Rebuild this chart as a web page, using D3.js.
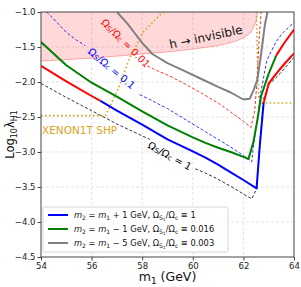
<!DOCTYPE html>
<html>
<head>
<meta charset="UTF-8">
<style>
  body { margin: 0; background: #fff; }
  text { font-family: "DejaVu Sans", sans-serif; }
</style>
</head>
<body>
<div id="chart"></div>
<script src="https://cdn.jsdelivr.net/npm/d3@7"></script>
<script>
const WIDTH = 301, HEIGHT = 287;
const LEFT = 41, RIGHT = 294, TOP = 12, BOTTOM = 257;

const X_TICKS = [54, 56, 58, 60, 62, 64];
const Y_TICKS = [-1.0, -1.5, -2.0, -2.5, -3.0, -3.5, -4.0, -4.5];

// h -> invisible region, lower edge
const INV_X = [54, 55, 56, 57, 58, 59, 60, 61, 61.6, 62, 62.3, 62.5, 62.56];
const INV_Y = [-1.70, -1.68, -1.66, -1.63, -1.60, -1.57, -1.53, -1.48, -1.43, -1.37, -1.29, -1.14, -1.0];

// XENON1T SHP
const XE_X = [54, 56.55, 57.04, 57.5, 58.05, 58.85];
const XE_Y = [-2.48, -2.48, -2.11, -1.66, -1.28, -0.99];
const XE2_X = [62.51, 62.55, 62.6, 62.7, 64];
const XE2_Y = [-1.0, -1.6, -2.2, -2.3, -2.3];

// m2 = m1 + 1 (red / blue pieces)
const P1_RED_X = [54, 55, 56, 56.35];
const P1_RED_Y = [-1.77, -1.99, -2.2, -2.27];
const P1_BLUE_X = [56.35, 57, 58, 59, 60, 60.5, 61, 61.5, 62, 62.52, 62.65, 62.8];
const P1_BLUE_Y = [-2.27, -2.41, -2.61, -2.82, -2.99, -3.08, -3.18, -3.29, -3.4, -3.52, -2.9, -2.3];
const P1_RED2_X = [62.8, 63.0, 63.3, 63.6, 64];
const P1_RED2_Y = [-2.3, -2.02, -1.88, -1.75, -1.59];

// m2 = m1 - 1 (green / red)
const M1_GREEN_X = [54, 55, 56, 57, 58, 59, 60, 60.5, 61, 61.5, 62, 62.2, 62.4, 62.55, 62.7, 63.0, 63.3];
const M1_GREEN_Y = [-1.43, -1.76, -2.01, -2.21, -2.42, -2.62, -2.79, -2.87, -2.94, -3.0, -3.07, -3.1, -2.85, -2.55, -2.2, -1.88, -1.62];
const M1_RED_X = [63.3, 63.6, 64];
const M1_RED_Y = [-1.62, -1.45, -1.25];

// m2 = m1 - 5 (gray)
const M5_X = [57.0, 57.4, 57.7, 58.0, 58.4, 59.0, 59.6, 60.3, 61.0, 61.5, 62.0, 62.25, 62.4, 62.55, 62.7, 62.85, 62.95];
const M5_Y = [-1.0, -1.16, -1.3, -1.44, -1.6, -1.73, -1.83, -1.95, -2.07, -2.15, -2.25, -2.24, -2.12, -1.97, -1.6, -1.18, -1.0];

// ratio contours (dashed)
const R001_X = [58.2, 58.6, 59.0, 59.6, 60.3, 61.0, 61.5, 62.0, 62.3, 62.45, 62.53, 62.62, 62.7];
const R001_Y = [-1.77, -1.84, -1.9, -2.01, -2.15, -2.3, -2.43, -2.56, -2.65, -2.4, -2.02, -1.4, -1.0];
const R01A_X = [54.22, 54.5, 55.0, 55.4, 55.75];
const R01A_Y = [-1.0, -1.1, -1.29, -1.4, -1.48];
const R01B_X = [57.9, 58.3, 59, 60, 60.5, 61, 61.5, 62, 62.33, 62.39, 62.5, 62.59, 62.66, 62.92, 63.05, 63.3, 63.55, 64];
const R01B_Y = [-2.18, -2.25, -2.38, -2.6, -2.71, -2.82, -2.93, -3.05, -3.14, -2.93, -2.65, -2.45, -2.2, -1.7, -1.6, -1.42, -1.3, -1.15];
const R1A_X = [54, 55, 56, 57, 58, 58.3];
const R1A_Y = [-2.02, -2.22, -2.41, -2.6, -2.77, -2.82];
const R1B_X = [60.1, 60.5, 61, 61.5, 62, 62.33, 62.53, 62.66, 62.79, 63.0, 63.45, 64];
const R1B_Y = [-3.24, -3.3, -3.39, -3.49, -3.6, -3.67, -3.52, -2.83, -2.25, -2.04, -1.88, -1.65];

const LEGEND = [
  { color: "blue", dm: "+ 1", ratio: "1" },
  { color: "green", dm: "\u2212 1", ratio: "0.016" },
  { color: "gray", dm: "\u2212 5", ratio: "0.003" }
];

const x = d3.scaleLinear().domain([54, 64]).range([LEFT, RIGHT]);
const y = d3.scaleLinear().domain([-4.5, -1]).range([BOTTOM, TOP]);

const svg = d3.select("#chart").append("svg")
  .attr("width", WIDTH).attr("height", HEIGHT);

svg.append("clipPath").attr("id", "clip")
  .append("rect").attr("x", LEFT).attr("y", TOP)
  .attr("width", RIGHT - LEFT).attr("height", BOTTOM - TOP);

// grid
const grid = svg.append("g").attr("stroke", "#d9d9d9").attr("stroke-width", 0.7).attr("stroke-dasharray", "3,2");
grid.selectAll(".gx").data(X_TICKS.slice(1, -1)).enter().append("line")
  .attr("x1", d => x(d)).attr("x2", d => x(d)).attr("y1", TOP).attr("y2", BOTTOM);
grid.selectAll(".gy").data(Y_TICKS.slice(1, -1)).enter().append("line")
  .attr("y1", d => y(d)).attr("y2", d => y(d)).attr("x1", LEFT).attr("x2", RIGHT);

const plot = svg.append("g").attr("clip-path", "url(#clip)");

const inv = INV_X.map((v, i) => [v, INV_Y[i]]);
plot.append("path").datum(inv)
  .attr("d", d3.area().x(d => x(d[0])).y0(y(-1)).y1(d => y(d[1])))
  .attr("fill", "rgba(255,0,0,0.15)");
plot.append("path").datum(inv)
  .attr("d", d3.line().x(d => x(d[0])).y(d => y(d[1])))
  .attr("fill", "none").attr("stroke", "rgba(240,90,90,0.55)").attr("stroke-width", 0.9);

function curve(xs, ys, color, width, dash) {
  const pts = xs.map((v, i) => [v, ys[i]]);
  plot.append("path").datum(pts)
    .attr("d", d3.line().x(d => x(d[0])).y(d => y(d[1])))
    .attr("fill", "none").attr("stroke", color).attr("stroke-width", width)
    .attr("stroke-dasharray", dash || null).attr("stroke-linejoin", "round");
}

curve(XE_X, XE_Y, "goldenrod", 1.6, "1.6,2.4");
curve(XE2_X, XE2_Y, "goldenrod", 1.6, "1.6,2.4");

curve(R1A_X, R1A_Y, "black", 0.8, "3,2");
curve(R1B_X, R1B_Y, "black", 0.8, "3,2");
curve(R01A_X, R01A_Y, "blue", 0.8, "3,2");
curve(R01B_X, R01B_Y, "blue", 0.8, "3,2");
curve(R001_X, R001_Y, "red", 0.8, "3,2");

curve(M5_X, M5_Y, "gray", 2);
curve(M1_GREEN_X, M1_GREEN_Y, "green", 2);
curve(M1_RED_X, M1_RED_Y, "red", 2);
curve(P1_RED_X, P1_RED_Y, "red", 2);
curve(P1_BLUE_X, P1_BLUE_Y, "blue", 2);
curve(P1_RED2_X, P1_RED2_Y, "red", 2);

// contour labels
function ratioLabel(cx, cy, angle, value, color) {
  const t = svg.append("text")
    .attr("transform", `translate(${x(cx)},${y(cy)}) rotate(${angle})`)
    .attr("text-anchor", "middle").attr("dominant-baseline", "central")
    .attr("font-size", 10).attr("fill", color);
  t.append("tspan").text("\u03A9");
  t.append("tspan").attr("font-size", 7).attr("dy", 2.5).text("S");
  t.append("tspan").attr("dy", -2.5).text("/\u03A9");
  t.append("tspan").attr("font-size", 7).attr("dy", 2.5).text("c");
  t.append("tspan").attr("dy", -2.5).text(" = " + value);
}
ratioLabel(57.36, -1.44, 45, "0.01", "red");
ratioLabel(56.8, -1.8, 40, "0.1", "blue");
ratioLabel(59.1, -3.05, 29, "1", "black");

svg.append("text")
  .attr("transform", `translate(${x(60.52)},${y(-1.36)}) rotate(-12)`)
  .attr("text-anchor", "middle").attr("dominant-baseline", "central")
  .attr("font-size", 12).attr("fill", "#111")
  .text("h \u2192 invisible");

svg.append("text")
  .attr("x", x(54) + 1).attr("y", y(-2.74))
  .attr("font-size", 10.5).attr("fill", "goldenrod")
  .text("XENON1T SHP");

// axes
svg.append("rect").attr("x", LEFT).attr("y", TOP)
  .attr("width", RIGHT - LEFT).attr("height", BOTTOM - TOP)
  .attr("fill", "none").attr("stroke", "#444").attr("stroke-width", 1);

const fmt = d3.format(".1f");
const xAxis = svg.append("g").attr("transform", `translate(0,${BOTTOM})`)
  .call(d3.axisBottom(x).tickValues(X_TICKS).tickSize(3.5).tickPadding(2));
const yAxis = svg.append("g").attr("transform", `translate(${LEFT},0)`)
  .call(d3.axisLeft(y).tickValues(Y_TICKS).tickFormat(fmt).tickSize(3.5).tickPadding(2));
[xAxis, yAxis].forEach(a => {
  a.select(".domain").remove();
  a.selectAll("line").attr("stroke", "#444");
  a.selectAll("text").attr("font-size", 8.5).attr("fill", "#222")
    .attr("font-family", "DejaVu Sans, sans-serif");
});

const xl = svg.append("text").attr("x", (LEFT + RIGHT) / 2).attr("y", 281)
  .attr("text-anchor", "middle").attr("font-size", 12.5).attr("fill", "#111");
xl.append("tspan").text("m");
xl.append("tspan").attr("font-size", 9).attr("dy", 3).text("1");
xl.append("tspan").attr("dy", -3).text(" (GeV)");

const yl = svg.append("text")
  .attr("transform", `translate(14,${(TOP + BOTTOM) / 2}) rotate(-90)`)
  .attr("text-anchor", "middle").attr("font-size", 11.5).attr("fill", "#111");
yl.append("tspan").text("Log");
yl.append("tspan").attr("font-size", 8).attr("dy", 3).text("10");
yl.append("tspan").attr("dy", -3).text("\u03BB");
yl.append("tspan").attr("font-size", 8).attr("dy", 3).text("H1");

// legend
const lg = svg.append("g");
lg.append("rect").attr("x", 43).attr("y", 207).attr("width", 185).attr("height", 45)
  .attr("rx", 2).attr("fill", "rgba(255,255,255,0.85)").attr("stroke", "#ccc").attr("stroke-width", 0.8);
LEGEND.forEach((d, i) => {
  const cy = 215 + i * 14;
  lg.append("line").attr("x1", 48).attr("x2", 68).attr("y1", cy).attr("y2", cy)
    .attr("stroke", d.color).attr("stroke-width", 2);
  const t = lg.append("text").attr("x", 74).attr("y", cy).attr("dominant-baseline", "central")
    .attr("font-size", 8.3).attr("fill", "#111");
  t.append("tspan").attr("font-style", "italic").text("m");
  t.append("tspan").attr("font-size", 6).attr("dy", 2).text("2");
  t.append("tspan").attr("dy", -2).text(" = ");
  t.append("tspan").attr("font-style", "italic").text("m");
  t.append("tspan").attr("font-size", 6).attr("dy", 2).text("1");
  t.append("tspan").attr("dy", -2).text(` ${d.dm} GeV,  \u03A9`);
  t.append("tspan").attr("font-size", 6).attr("dy", 2).text("S");
  t.append("tspan").attr("font-size", 4.5).attr("dy", 1.5).text("1");
  t.append("tspan").attr("dy", -3.5).text("/\u03A9");
  t.append("tspan").attr("font-size", 6).attr("dy", 2).text("c");
  t.append("tspan").attr("dy", -2).text(` \u2261 ${d.ratio}`);
});
</script>
</body>
</html>
